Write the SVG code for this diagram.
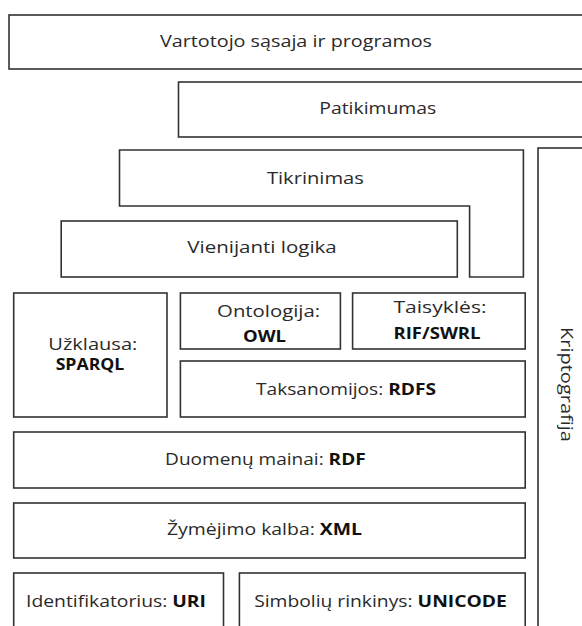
<svg xmlns="http://www.w3.org/2000/svg" width="582" height="626" viewBox="0 0 582 626">
<style>
.b{fill:#fff;stroke:#333;stroke-width:1.6}
text{font-family:"Open Sans","Noto Sans",sans-serif;font-size:16px;fill:#2a2a2a;text-anchor:middle}
.s{font-weight:bold;fill:#111}
</style>
<rect width="582" height="626" fill="#fff"/>
<g id="vartotojo"><rect class="b" x="9" y="15" width="600" height="54"/><text x="296" y="46.5" textLength="272" lengthAdjust="spacingAndGlyphs">Vartotojo sąsaja ir programos</text></g>
<g id="patikimumas"><rect class="b" x="178.5" y="82" width="430" height="55"/><text x="377.8" y="113.5" textLength="117" lengthAdjust="spacingAndGlyphs">Patikimumas</text></g>
<g id="kriptografija"><rect class="b" x="538" y="148" width="120" height="500"/><text transform="translate(560.5,384.5) rotate(90)" textLength="115" lengthAdjust="spacingAndGlyphs">Kriptografija</text></g>
<g id="tikrinimas"><path class="b" d="M119.5 150 H523.4 V277 H469.6 V206 H119.5 Z"/><text x="315.4" y="184" textLength="97" lengthAdjust="spacingAndGlyphs">Tikrinimas</text></g>
<g id="vienijanti"><rect class="b" x="61.2" y="221" width="396.1" height="56"/><text x="262" y="253" textLength="149.5" lengthAdjust="spacingAndGlyphs">Vienijanti logika</text></g>
<g id="uzklausa"><rect class="b" x="13.7" y="293" width="153.3" height="124"/><text x="92.8" y="350" textLength="89" lengthAdjust="spacingAndGlyphs">Užklausa:</text><text class="s" x="90" y="370" textLength="68.7" lengthAdjust="spacingAndGlyphs">SPARQL</text></g>
<g id="ontologija"><rect class="b" x="180.4" y="293" width="160" height="56"/><text x="268.6" y="316.7" textLength="103" lengthAdjust="spacingAndGlyphs">Ontologija:</text><text class="s" x="264.5" y="341.7" textLength="43" lengthAdjust="spacingAndGlyphs">OWL</text></g>
<g id="taisykles"><rect class="b" x="352.6" y="293" width="172.6" height="56"/><text x="440" y="313" textLength="93" lengthAdjust="spacingAndGlyphs">Taisyklės:</text><text class="s" x="437" y="339.3" textLength="87" lengthAdjust="spacingAndGlyphs">RIF/SWRL</text></g>
<g id="taksanomijos"><rect class="b" x="180.4" y="361" width="344.8" height="56"/><text x="346" y="395" textLength="180" lengthAdjust="spacingAndGlyphs">Taksanomijos: <tspan class="s">RDFS</tspan></text></g>
<g id="duomenu"><rect class="b" x="13.7" y="432" width="511.5" height="56"/><text x="265.4" y="465" textLength="200.6" lengthAdjust="spacingAndGlyphs">Duomenų mainai: <tspan class="s">RDF</tspan></text></g>
<g id="zymejimo"><rect class="b" x="13.7" y="503" width="511.5" height="55"/><text x="264.5" y="535" textLength="195" lengthAdjust="spacingAndGlyphs">Žymėjimo kalba: <tspan class="s">XML</tspan></text></g>
<g id="identifikatorius"><rect class="b" x="13.7" y="573" width="209.8" height="70"/><text x="116" y="607" textLength="180" lengthAdjust="spacingAndGlyphs">Identifikatorius: <tspan class="s">URI</tspan></text></g>
<g id="simboliu"><rect class="b" x="239.4" y="573" width="285.8" height="70"/><text x="380.5" y="607" textLength="252.7" lengthAdjust="spacingAndGlyphs">Simbolių rinkinys: <tspan class="s">UNICODE</tspan></text></g>
<g id="connectors"/>
</svg>
